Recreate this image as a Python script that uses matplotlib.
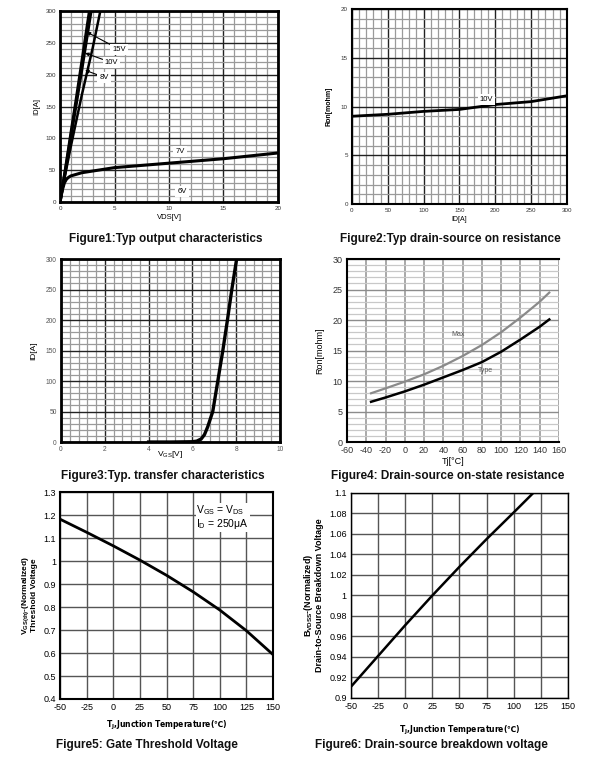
import numpy as np
import matplotlib.pyplot as plt
from matplotlib.ticker import MultipleLocator

plt.rcParams['font.family'] = ['Liberation Sans', 'DejaVu Sans']
plt.rcParams['mathtext.default'] = 'regular'
plt.rcParams['axes.unicode_minus'] = False

# Figure1: output characteristics
f1_vds_15 = [0, 0.5, 1.0, 1.5, 2.0, 2.7]
f1_id_15 = [0, 52, 108, 163, 220, 300]
f1_vds_10 = [0, 0.5, 1.0, 1.5, 2.0, 2.85]
f1_id_10 = [0, 50, 103, 155, 208, 300]
f1_vds_8 = [0, 0.5, 1.0, 2.0, 3.0, 3.7]
f1_id_8 = [0, 45, 88, 168, 242, 300]
f1_vds_7 = [0, 0.2, 0.4, 0.6, 0.8, 1.0, 2.0, 5.0, 10.0, 15.0, 20.0]
f1_id_7 = [0, 18, 30, 36, 39, 41, 46, 54, 61, 68, 77]

# Figure2: on resistance vs ID
f2_id = [0, 50, 100, 150, 200, 250, 300]
f2_ron = [9.0, 9.2, 9.5, 9.7, 10.2, 10.5, 11.1]

# Figure3: transfer characteristics
f3_vgs = [4.0, 5.0, 6.0, 6.2, 6.4, 6.55, 6.7, 6.93, 7.16, 7.39, 7.6, 7.8, 8.02]
f3_id = [0, 0, 0.5, 1.5, 5, 12, 25, 50, 100, 150, 200, 250, 300]

# Figure4: on-state resistance vs Tj
f4_tj = [-35, -20, 0, 20, 40, 60, 80, 100, 120, 140, 150]
f4_max = [8.0, 8.8, 9.9, 11.1, 12.5, 14.1, 15.9, 18.0, 20.4, 23.0, 24.5]
f4_typ = [6.6, 7.3, 8.3, 9.4, 10.6, 11.8, 13.1, 14.8, 16.8, 18.9, 20.1]

# Figure5: gate threshold voltage
f5_tj = [-50, -25, 0, 25, 50, 75, 100, 125, 150]
f5_vth = [1.182, 1.125, 1.066, 1.004, 0.938, 0.866, 0.787, 0.697, 0.593]

# Figure6: breakdown voltage
f6_tj = [-50, -25, 0, 25, 50, 75, 100, 118]
f6_bv = [0.911, 0.941, 0.971, 1.0, 1.028, 1.055, 1.081, 1.1]

fig = plt.figure(figsize=(6.02, 7.74), dpi=100)


def grid_axes(rect, xlim, ylim, xmaj, xmin, ymaj, ymin, spine_w, tick_fs,
              tick_color='#333333', major_col='#222222', minor_col='#9a9a9a'):
    ax = fig.add_axes(rect)
    ax.set_xlim(*xlim)
    ax.set_ylim(*ylim)
    ax.xaxis.set_major_locator(MultipleLocator(xmaj))
    ax.yaxis.set_major_locator(MultipleLocator(ymaj))
    if xmin:
        ax.xaxis.set_minor_locator(MultipleLocator(xmin))
    if ymin:
        ax.yaxis.set_minor_locator(MultipleLocator(ymin))
    ax.grid(which='minor', color=minor_col, lw=0.9)
    ax.grid(which='major', color=major_col, lw=1.0)
    ax.set_axisbelow(True)
    ax.tick_params(which='both', length=0, labelsize=tick_fs, colors=tick_color, pad=3)
    for s in ax.spines.values():
        s.set_linewidth(spine_w)
        s.set_color('black')
    return ax


# ---------- Figure 1
ax1 = grid_axes([0.0997, 0.739, 0.362, 0.2468], (0, 20), (0, 300), 5, 1, 50, 10, 2.0, 4.5)
ax1.plot(f1_vds_15, f1_id_15, color='black', lw=2.2)
ax1.plot(f1_vds_10, f1_id_10, color='black', lw=2.2)
ax1.plot(f1_vds_8, f1_id_8, color='black', lw=1.8)
ax1.plot(f1_vds_7, f1_id_7, color='black', lw=2.2)
box = dict(facecolor='white', edgecolor='none', pad=1.5)
for txt, tx, ty, px, py in [('15V', 4.8, 240, 2.45, 267), ('10V', 4.1, 219, 2.3, 234),
                            ('8V', 3.6, 196, 2.3, 207)]:
    ax1.annotate(txt, xy=(px, py), xytext=(tx, ty), fontsize=5.5, va='center', ha='left',
                 bbox=box, arrowprops=dict(arrowstyle='-|>', color='black', lw=0.8,
                                           mutation_scale=5, shrinkA=0, shrinkB=0))
ax1.text(11, 79, '7V', fontsize=5.5, ha='center', va='center', bbox=box)
ax1.text(11.2, 17, '6V', fontsize=5.5, ha='center', va='center', bbox=box)
ax1.set_xlabel('VDS[V]', fontsize=5.5, labelpad=2)
ax1.set_ylabel('ID[A]', fontsize=5.5, labelpad=4)

# ---------- Figure 2
ax2 = grid_axes([0.5847, 0.7364, 0.357, 0.252], (0, 300), (0, 20), 50, 10, 5, 1, 1.5, 4.5)
ax2.plot(f2_id, f2_ron, color='black', lw=2.0)
ax2.text(188, 10.75, '10V', fontsize=5.5, ha='center', va='center', bbox=box)
ax2.set_xlabel('ID[A]', fontsize=5, labelpad=2)
ax2.set_ylabel('Ron[mohm]', fontsize=5, labelpad=6, fontweight='bold')

# ---------- Figure 3
ax3 = grid_axes([0.1013, 0.4289, 0.3638, 0.2364], (0, 10), (0, 300), 2, 0.4, 50, 10, 2.0, 4.8,
                tick_color='#555555')
ax3.plot(f3_vgs, f3_id, color='black', lw=2.4)
ax3.set_xlabel('V$_{GS}$[V]', fontsize=6, labelpad=-3)
ax3.set_ylabel('ID[A]', fontsize=6, labelpad=6)

# ---------- Figure 4
ax4 = grid_axes([0.5764, 0.4289, 0.352, 0.2364], (-60, 160), (0, 30), 20, None, 5, 1, 1.5, 6.5,
                major_col='#8c8c8c', minor_col='#c8c8c8')
ax4.grid(which='major', axis='x', color='#9a9a9a', lw=1.2)
ax4.plot(f4_tj, f4_max, color='#8a8a8a', lw=1.6)
ax4.plot(f4_tj, f4_typ, color='black', lw=1.8)
ax4.text(55, 17.7, 'Max', fontsize=5, color='#555555', ha='center', va='center')
ax4.text(84, 11.7, 'Type', fontsize=5, color='#555555', ha='center', va='center')
ax4.set_xlabel('Tj[°C]', fontsize=6.5, labelpad=1)
ax4.set_ylabel('Ron[mohm]', fontsize=6.5, labelpad=6)
ax4.spines['right'].set_visible(False)

# ---------- Figure 5
ax5 = grid_axes([0.0997, 0.0969, 0.3538, 0.2674], (-50, 150), (0.4, 1.3), 25, None, 0.1, None, 1.5, 6.5,
                tick_color='black', major_col='#555555')
ax5.plot(f5_tj, f5_vth, color='black', lw=2.0)
ax5.set_yticks(np.arange(0.4, 1.31, 0.1))
ax5.set_yticklabels(['0.4', '0.5', '0.6', '0.7', '0.8', '0.9', '1', '1.1', '1.2', '1.3'])
ax5.text(78, 1.19, 'V$_{GS}$ = V$_{DS}$\nI$_{D}$ = 250μA', fontsize=7.5, ha='left', va='center',
         linespacing=0.95, bbox=dict(facecolor='white', edgecolor='none', pad=0.5))
ax5.set_xlabel('T$_{J}$,Junction Temperature(℃)', fontsize=5.5, fontweight='bold', labelpad=5,
               family='DejaVu Sans')
ax5.set_ylabel('V$_{GS(th)}$-(Normalized)\nThreshold Voltage', fontsize=6, fontweight='bold',
               labelpad=4, linespacing=0.95)

# ---------- Figure 6
ax6 = grid_axes([0.583, 0.0982, 0.3605, 0.2649], (-50, 150), (0.9, 1.1), 25, None, 0.02, None, 1.0, 6.5,
                tick_color='black', major_col='#555555')
ax6.plot(f6_tj, f6_bv, color='black', lw=1.8)
ax6.set_yticks(np.arange(0.9, 1.101, 0.02))
ax6.set_yticklabels(['0.9', '0.92', '0.94', '0.96', '0.98', '1', '1.02', '1.04', '1.06', '1.08', '1.1'])
ax6.set_xlabel('T$_{J}$,Junction Temperature(℃)', fontsize=5.5, fontweight='bold', labelpad=9,
               family='DejaVu Sans')
ax6.set_ylabel('B$_{VDSS}$-(Normalized)\nDrain-to-Source Breakdown Voltage', fontsize=6.5,
               fontweight='bold', labelpad=4, linespacing=0.95)

# ---------- captions
caps = [('Figure1:Typ output characteristics', 166, 239),
        ('Figure2:Typ drain-source on resistance', 450, 239),
        ('Figure3:Typ. transfer characteristics', 163, 476),
        ('Figure4: Drain-source on-state resistance', 448, 476),
        ('Figure5: Gate Threshold Voltage', 147, 745),
        ('Figure6: Drain-source breakdown voltage', 431, 745)]
for t, x, y in caps:
    fig.text(x / 602, 1 - y / 774, t, fontsize=8.5, fontweight='bold', ha='center', va='center',
             color='#111111')

fig.savefig('out.png', dpi=100)
